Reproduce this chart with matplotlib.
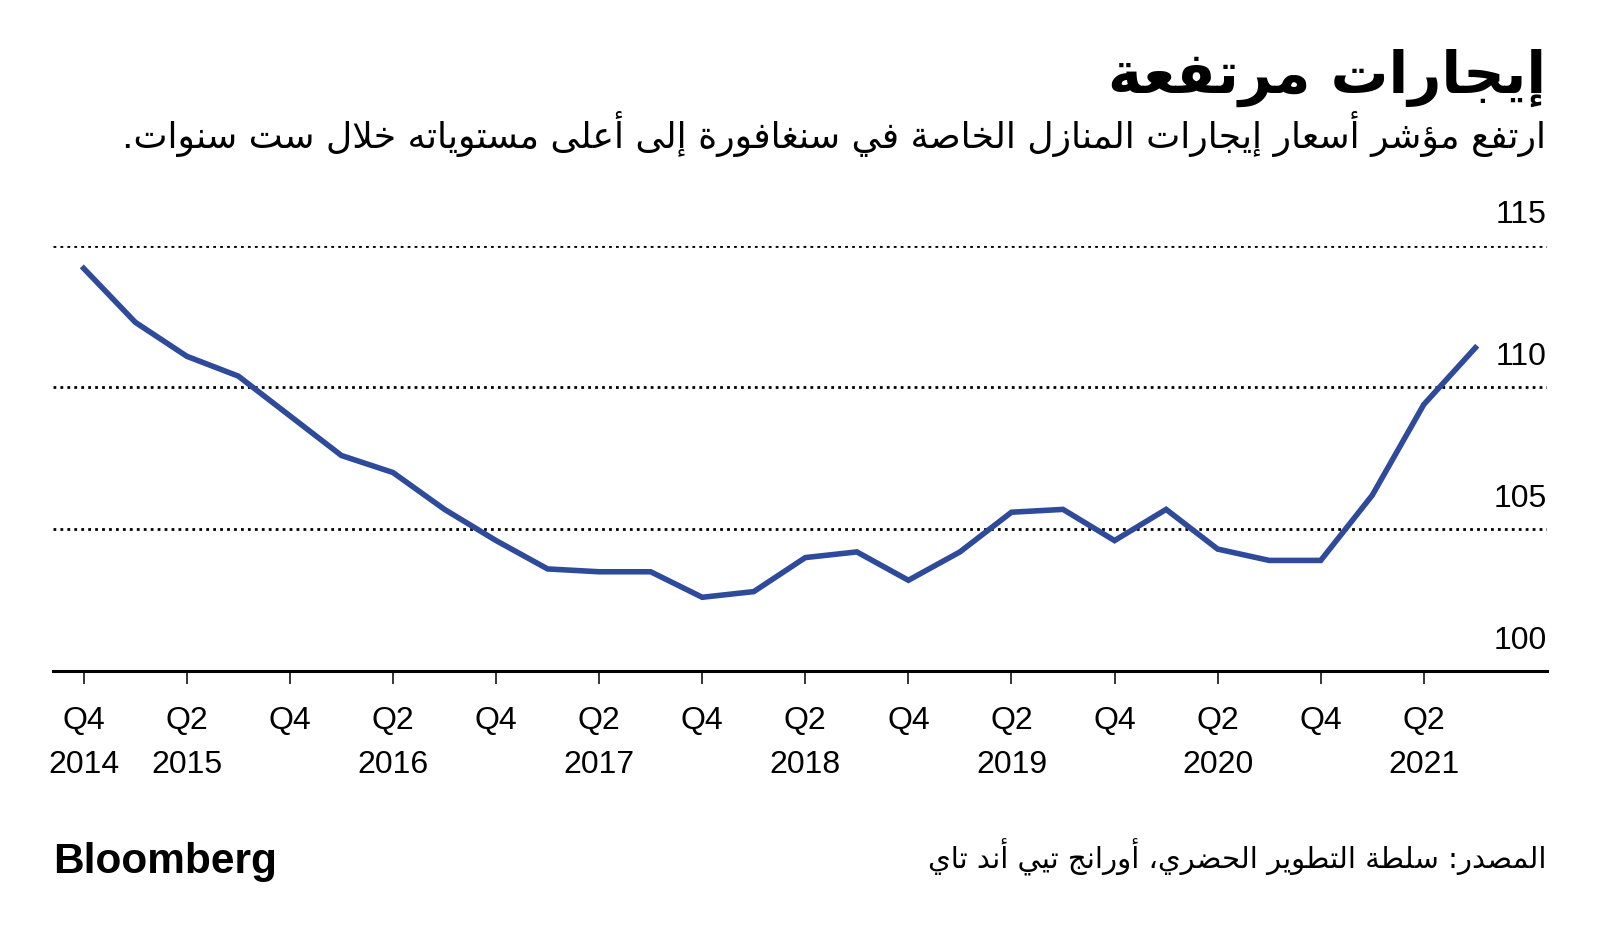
import numpy as np
import matplotlib.pyplot as plt

# مؤشر إيجارات المنازل الخاصة، ربع سنوي من Q4 2014 إلى Q3 2021
quarters = ["Q4 2014",
            "Q1 2015", "Q2 2015", "Q3 2015", "Q4 2015",
            "Q1 2016", "Q2 2016", "Q3 2016", "Q4 2016",
            "Q1 2017", "Q2 2017", "Q3 2017", "Q4 2017",
            "Q1 2018", "Q2 2018", "Q3 2018", "Q4 2018",
            "Q1 2019", "Q2 2019", "Q3 2019", "Q4 2019",
            "Q1 2020", "Q2 2020", "Q3 2020", "Q4 2020",
            "Q1 2021", "Q2 2021", "Q3 2021"]
rent_index = [114.2,
              112.3, 111.1, 110.4, 109.0,
              107.6, 107.0, 105.7, 104.6,
              103.6, 103.5, 103.5, 102.6,
              102.8, 104.0, 104.2, 103.2,
              104.2, 105.6, 105.7, 104.6,
              105.7, 104.3, 103.9, 103.9,
              106.2, 109.4, 111.4]

tick_pos = list(range(0, 27, 2))
tick_labels = ["Q4\n2014", "Q2\n2015", "Q4\n", "Q2\n2016", "Q4\n", "Q2\n2017", "Q4\n",
               "Q2\n2018", "Q4\n", "Q2\n2019", "Q4\n", "Q2\n2020", "Q4\n", "Q2\n2021"]
y_labels = [100, 105, 110, 115]

title = "إيجارات مرتفعة"
subtitle = "ارتفع مؤشر أسعار إيجارات المنازل الخاصة في سنغافورة إلى أعلى مستوياته خلال ست سنوات."
source = "المصدر: سلطة التطوير الحضري، أورانج تيي أند تاي"

# تشكيل الحروف العربية يدويا (matplotlib لا يدعم الربط ولا الاتجاه من اليمين)
DUAL = {'ئ': 0xFE89, 'ب': 0xFE8F, 'ت': 0xFE95, 'ث': 0xFE99, 'ج': 0xFE9D, 'ح': 0xFEA1,
        'خ': 0xFEA5, 'س': 0xFEB1, 'ش': 0xFEB5, 'ص': 0xFEB9, 'ض': 0xFEBD, 'ط': 0xFEC1,
        'ظ': 0xFEC5, 'ع': 0xFEC9, 'غ': 0xFECD, 'ف': 0xFED1, 'ق': 0xFED5, 'ك': 0xFED9,
        'ل': 0xFEDD, 'م': 0xFEE1, 'ن': 0xFEE5, 'ه': 0xFEE9, 'ي': 0xFEF1}
RIGHT = {'آ': 0xFE81, 'أ': 0xFE83, 'ؤ': 0xFE85, 'إ': 0xFE87, 'ا': 0xFE8D, 'ة': 0xFE93,
         'د': 0xFEA9, 'ذ': 0xFEAB, 'ر': 0xFEAD, 'ز': 0xFEAF, 'و': 0xFEED, 'ى': 0xFEEF}
LAM_ALEF = {'آ': 0xFEF5, 'أ': 0xFEF7, 'إ': 0xFEF9, 'ا': 0xFEFB}


def shape(text):
    units = []
    i = 0
    while i < len(text):
        if text[i] == 'ل' and i + 1 < len(text) and text[i + 1] in LAM_ALEF:
            units.append(('LA', text[i + 1]))
            i += 2
        else:
            units.append(('C', text[i]))
            i += 1

    def jtype(u):
        if u[0] == 'LA' or u[1] in RIGHT:
            return 'R'
        if u[1] in DUAL:
            return 'D'
        return None

    out = []
    for k, u in enumerate(units):
        t = jtype(u)
        prev_t = jtype(units[k - 1]) if k > 0 else None
        next_t = jtype(units[k + 1]) if k + 1 < len(units) else None
        jp = t is not None and prev_t == 'D'
        jn = t == 'D' and next_t is not None
        if u[0] == 'LA':
            out.append(chr(LAM_ALEF[u[1]] + jp))
        elif t == 'D':
            off = 3 if (jp and jn) else 1 if jp else 2 if jn else 0
            out.append(chr(DUAL[u[1]] + off))
        elif t == 'R':
            out.append(chr(RIGHT[u[1]] + jp))
        else:
            out.append(u[1])
    return ''.join(reversed(out))


plt.rcParams['font.family'] = ['Liberation Sans', 'DejaVu Sans']
W, H = 1600, 935
fig = plt.figure(figsize=(W / 100, H / 100), dpi=100)

# محاور الرسم
ax = fig.add_axes([53 / W, 1 - 671 / H, (1547 - 53) / W, (671 - 245.7) / H])
x = np.arange(len(quarters))
ax.plot(x, rent_index, color="#2e4a9a", lw=4.0, solid_joinstyle="miter", clip_on=False)
ax.set_xlim(-0.596, 28.39)
ax.set_ylim(100, 115)

for v in [105, 110, 115]:
    ax.axhline(v, color="black", lw=2.0, linestyle=(0, (1.0, 1.5)), zorder=0)
for v in y_labels:
    ax.annotate(str(v), xy=(1, v), xycoords=('axes fraction', 'data'), xytext=(0, 16),
                textcoords='offset points', ha='right', va='baseline', fontsize=23)

for s in ['top', 'left', 'right']:
    ax.spines[s].set_visible(False)
ax.spines['bottom'].set_linewidth(2.2)
ax.set_yticks([])
ax.set_xticks(tick_pos, tick_labels)
ax.tick_params(axis='x', length=9.5, width=1.1, pad=16, labelsize=23)
for lab in ax.get_xticklabels():
    lab.set_linespacing(1.58)

# العناوين والمصدر
fig.text(1546 / W, 1 - 93 / H, shape(title), ha='right', va='baseline',
         fontsize=41.5, fontweight='bold', family='DejaVu Sans')
fig.text(1546 / W, 1 - 148 / H, shape(subtitle), ha='right', va='baseline',
         fontsize=26, family='DejaVu Sans')
fig.text(1546 / W, 1 - 868 / H, shape(source), ha='right', va='baseline',
         fontsize=21, family='DejaVu Sans')
fig.text(53 / W, 1 - 873 / H, "Bloomberg", ha='left', va='baseline',
         fontsize=30.5, fontweight='bold')

fig.savefig("out.png", dpi=100)
